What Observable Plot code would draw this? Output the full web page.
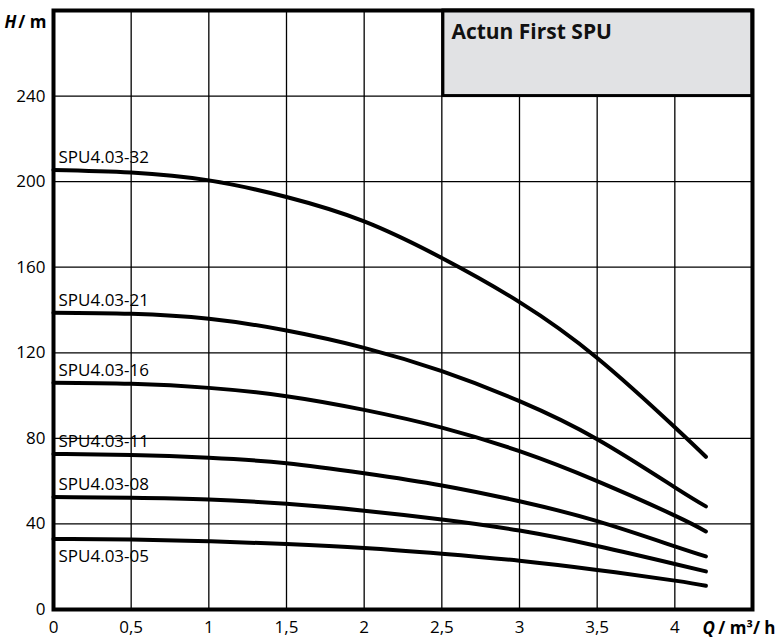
<!DOCTYPE html>
<html>
<head>
<meta charset="utf-8">
<script src="https://cdn.jsdelivr.net/npm/d3@7"></script>
<script src="https://cdn.jsdelivr.net/npm/@observablehq/plot@0.6"></script>
<style>
  html, body { margin: 0; padding: 0; background: white; }
</style>
</head>
<body>
<div id="chart"></div>
<script>
// Flow rate Q (m³/h) at which heads were read
const Q = [0, 0.5, 1, 1.5, 2, 2.5, 3, 3.5, 4, 4.2];
// Pump names
const names = ["SPU4.03-32", "SPU4.03-21", "SPU4.03-16", "SPU4.03-11", "SPU4.03-08", "SPU4.03-05"];
// Head H (m) per pump
const H32 = [205.5, 204.3, 200.6, 192.8, 181.4, 164.3, 143.7, 117.6, 85.2, 71.4];
const H21 = [138.7, 138.2, 135.9, 130.4, 122.3, 111.4, 97.4, 79.6, 57.1, 48.2];
const H16 = [106.0, 105.5, 103.6, 99.7, 93.3, 85.0, 74.0, 60.0, 43.9, 36.5];
const H11 = [72.7, 72.2, 70.9, 68.4, 63.7, 58.0, 50.6, 41.3, 29.5, 24.8];
const H08 = [52.6, 52.2, 51.4, 49.4, 46.2, 42.1, 36.9, 29.7, 21.3, 17.8];
const H05 = [33.0, 32.7, 31.9, 30.6, 28.8, 26.1, 22.8, 18.5, 13.5, 11.1];
// Ticks
const xTicks = [0, 0.5, 1, 1.5, 2, 2.5, 3, 3.5, 4];
const yTicks = [0, 40, 80, 120, 160, 200, 240];
const title = "Actun First SPU";

const series = [H32, H21, H16, H11, H08, H05];
const rows = names.flatMap((n, i) => Q.map((q, j) => ({name: n, Q: q, H: series[i][j]})));
const labelsAbove = names.slice(0, 5).map((n, i) => ({name: n, Q: 0, H: series[i][0]}));
const labelsBelow = names.slice(5).map((n, i) => ({name: n, Q: 0, H: series[5 + i][0]}));

const font = "'Open Sans', 'Noto Sans', sans-serif";

const chart = Plot.plot({
  width: 779,
  height: 641,
  marginLeft: 53,
  marginRight: 27,
  marginTop: 10,
  marginBottom: 32,
  x: {domain: [0, 4.5]},
  y: {domain: [0, 280]},
  style: {fontFamily: font, fontSize: "17px", color: "black", background: "white"},
  marks: [
    Plot.ruleX(xTicks.filter(d => d > 0), {stroke: "black", strokeWidth: 1.3}),
    Plot.ruleY(yTicks.filter(d => d > 0), {stroke: "black", strokeWidth: 1.3}),
    Plot.rect([title], {x1: 2.51, x2: 4.5, y1: 240, y2: 280, fill: "#e1e2e4", stroke: "black", strokeWidth: 3}),
    Plot.text([title], {x: 2.51, y: 280, dx: 8, dy: 22, textAnchor: "start", lineAnchor: "middle",
      fontSize: 21, fontWeight: "bold", fill: "#111"}),
    Plot.line(rows, {x: "Q", y: "H", z: "name", curve: "natural", stroke: "black", strokeWidth: 4, strokeLinecap: "round"}),
    Plot.text(labelsAbove, {x: "Q", y: "H", text: "name", dx: 5, dy: -12, textAnchor: "start", lineAnchor: "middle", fontSize: 17}),
    Plot.text(labelsBelow, {x: "Q", y: "H", text: "name", dx: 5, dy: 18, textAnchor: "start", lineAnchor: "middle", fontSize: 17}),
    Plot.frame({stroke: "black", strokeWidth: 4}),
    Plot.axisX(xTicks, {tickSize: 0, tickPadding: 11, tickFormat: d => String(d).replace(".", ","), fontSize: 17, label: null}),
    Plot.axisY(yTicks, {tickSize: 0, tickPadding: 8, fontSize: 17, label: null}),
    // axis titles
    Plot.text(["H"], {x: 0, y: 280, dx: -49, dy: 12, textAnchor: "start", lineAnchor: "middle", fontWeight: "bold", fontStyle: "italic", fontSize: 17}),
    Plot.text(["/ m"], {x: 0, y: 280, dx: -7, dy: 12, textAnchor: "end", lineAnchor: "middle", fontWeight: "bold", fontSize: 17}),
    Plot.text(["Q"], {x: 4.5, y: 0, dx: -50, dy: 19, textAnchor: "start", lineAnchor: "middle", fontWeight: "bold", fontStyle: "italic", fontSize: 17}),
    Plot.text(["/ m³/ h"], {x: 4.5, y: 0, dx: 23, dy: 19, textAnchor: "end", lineAnchor: "middle", fontWeight: "bold", fontSize: 17})
  ]
});
document.getElementById("chart").appendChild(chart);
</script>
</body>
</html>
